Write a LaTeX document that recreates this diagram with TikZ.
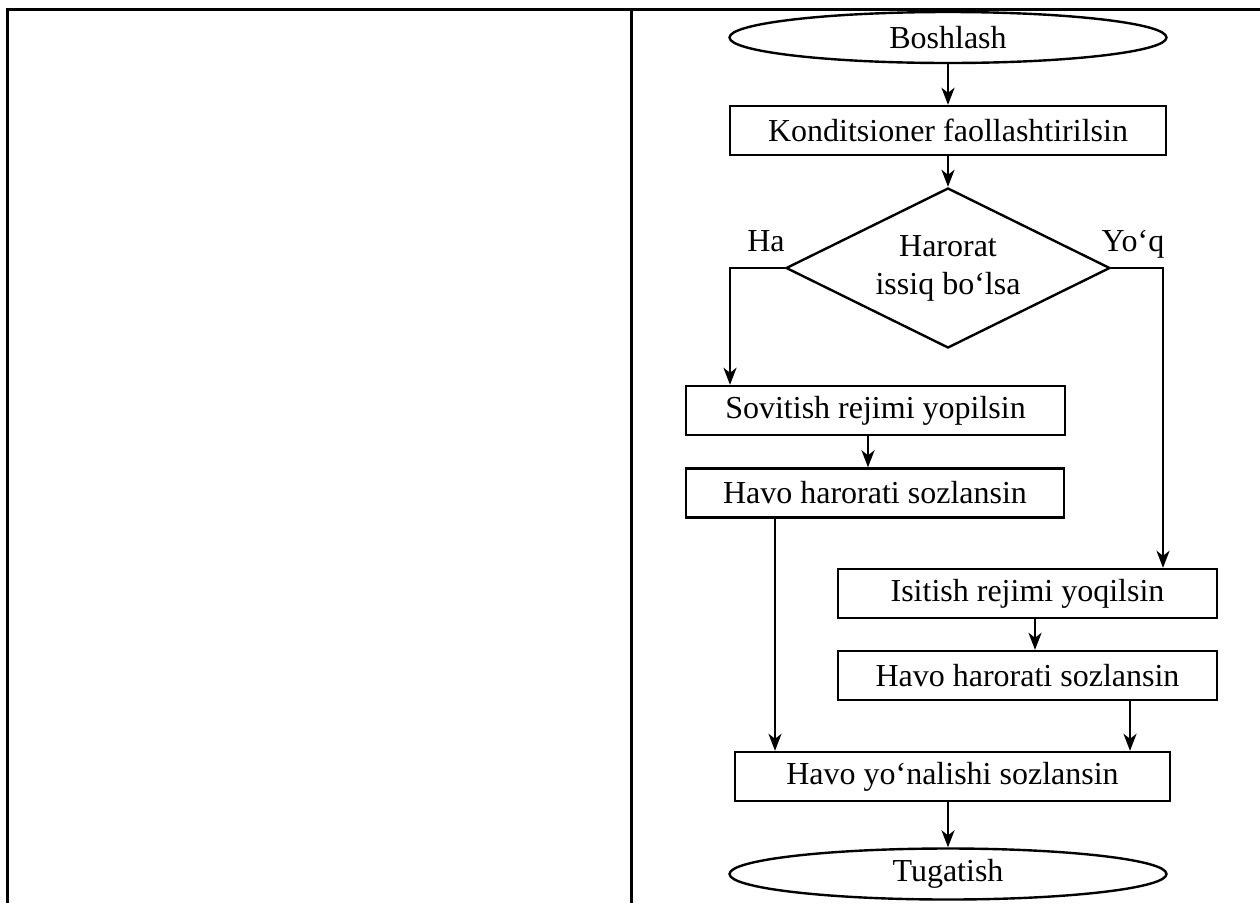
\documentclass[tikz,border=0pt]{standalone}
\usepackage{fontspec}
\setmainfont{Liberation Serif}
\usetikzlibrary{shapes.geometric,arrows.meta}
\begin{document}
\begin{tikzpicture}[x=1pt,y=-1pt,
  every node/.style={font=\fontsize{32}{38}\selectfont, inner sep=0pt},
  box/.style={draw, line width=2.4pt, rectangle, minimum height=49pt},
  term/.style={draw, line width=2.4pt, ellipse, minimum width=437pt, minimum height=51pt},
  decision/.style={draw, line width=2.4pt, diamond, aspect=2, minimum width=324pt, minimum height=160pt, align=center},
  arr/.style={line width=2.4pt, -{Stealth[length=17pt,width=13pt,inset=5pt]}},
  frame/.style={line width=3pt}]
\useasboundingbox (0,0) rectangle (1260,903);
% table frame
\coordinate (f1) at (7.5,903);
\coordinate (f2) at (7.5,9.5);
\coordinate (f3) at (1260,9.5);
\coordinate (d1) at (631,9.5);
\coordinate (d2) at (631,903);
\draw[frame] (f1) -- (f2) -- (f3);
\draw[frame] (d1) -- (d2);
% nodes
\node[term] (start) at (948,37.5) {Boshlash};
\node[box, minimum width=436pt] (kond) at (948,130.5) {Konditsioner faollashtirilsin};
\node[decision] (dia) at (948,268) {Harorat\\issiq bo‘lsa};
\node[anchor=base] (ha) at (766,251) {Ha};
\node[anchor=base] (yoq) at (1133,251) {Yo‘q};
\node[box, minimum width=379pt] (sov) at (875.5,410.5) {Sovitish rejimi yopilsin};
\node[box, minimum width=378pt] (hav1) at (875,493) {Havo harorati sozlansin};
\node[box, minimum width=379pt] (isi) at (1027.5,593.5) {Isitish rejimi yoqilsin};
\node[box, minimum width=379pt] (hav2) at (1027.5,675.5) {Havo harorati sozlansin};
\node[box, minimum width=435pt] (yon) at (952.5,776.5) {Havo yo‘nalishi sozlansin};
\node[term] (end) at (948,874) {Tugatish};
% helper coordinates
\coordinate (hal) at (730,268);
\coordinate (yor) at (1163,268);
\coordinate (xa) at (868,0);
\coordinate (xb) at (775,0);
\coordinate (xc) at (1035,0);
\coordinate (xd) at (1130,0);
% connectors
\draw[arr] (start) -- (kond);
\draw[arr] (kond) -- (dia);
\draw[arr] (dia.west) -- (hal) -- (hal |- sov.north);
\draw[arr] (dia.east) -- (yor) -- (yor |- isi.north);
\draw[arr] (sov.south -| xa) -- (hav1.north -| xa);
\draw[arr] (hav1.south -| xb) -- (yon.north -| xb);
\draw[arr] (isi.south -| xc) -- (hav2.north -| xc);
\draw[arr] (hav2.south -| xd) -- (yon.north -| xd);
\draw[arr] (yon.south -| end) -- (end);
\end{tikzpicture}
\end{document}
